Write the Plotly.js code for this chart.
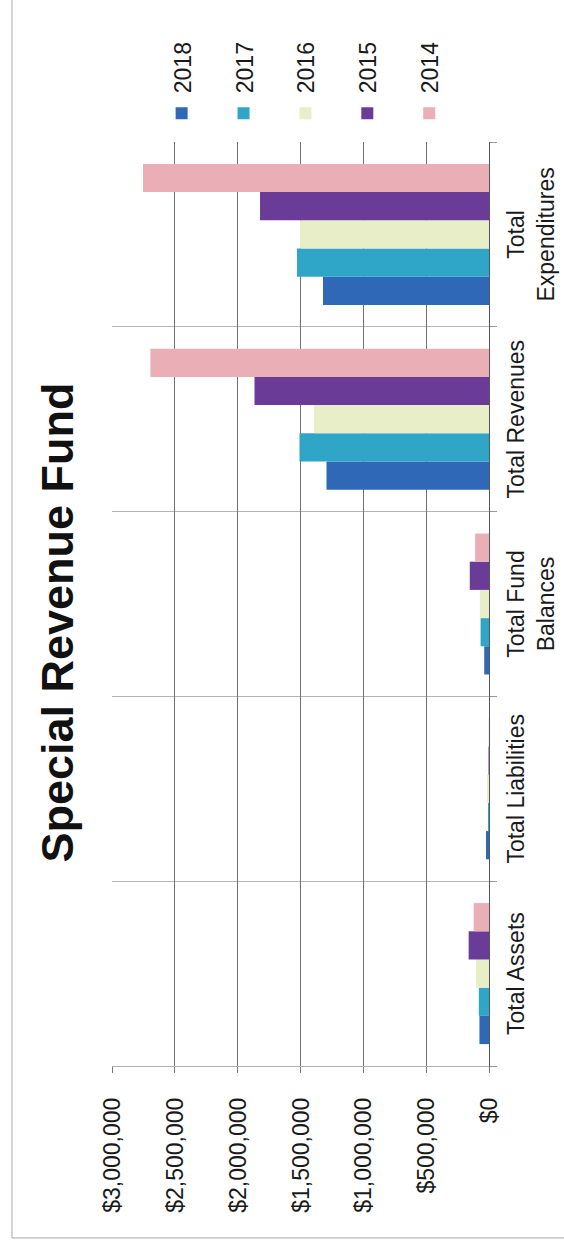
<!DOCTYPE html>
<html>
<head>
<meta charset="utf-8">
<script src="https://cdn.plot.ly/plotly-3.0.1.min.js"></script>
<style>
html,body{margin:0;padding:0;width:564px;height:1245px;overflow:hidden;background:#fff;}
#chart{position:absolute;left:0;top:0;width:1245px;height:564px;transform-origin:0 0;transform:translateY(1245px) rotate(-90deg);}
</style>
</head>
<body>
<div id="chart"></div>
<script>
// Data read from the (rotated) reference chart
const categories = ['Total Assets', 'Total Liabilities', 'Total Fund<br>Balances', 'Total Revenues', 'Total<br>Expenditures'];
const years = ['2018', '2017', '2016', '2015', '2014'];
const v2018 = [76000, 24000, 38000, 1293000, 1321000];
const v2017 = [81000, 8000, 67000, 1508000, 1528000];
const v2016 = [104000, 16000, 73000, 1393000, 1504000];
const v2015 = [162000, 4000, 153000, 1866000, 1822000];
const v2014 = [122000, 2000, 110000, 2694000, 2753000];
const tickValues = [0, 500000, 1000000, 1500000, 2000000, 2500000, 3000000];

const seriesValues = [v2018, v2017, v2016, v2015, v2014];
const colors = ['#2f68b6', '#2fa5c8', '#e8eec8', '#6a3c98', '#eaaeb6'];

const FONT = 'Liberation Sans, Arial, Helvetica, sans-serif';

const traces = years.map((y, i) => ({
  type: 'bar',
  name: y,
  legendgroup: y,
  x: categories,
  y: seriesValues[i],
  marker: {color: colors[i], line: {width: 0}}
}));

const layout = {
  width: 1245,
  height: 564,
  margin: {l: 179, r: 142, t: 112, b: 75, pad: 0},
  paper_bgcolor: '#ffffff',
  plot_bgcolor: '#ffffff',
  font: {family: FONT, size: 23, color: '#1a1a1a'},
  title: {
    text: '<b>Special Revenue Fund</b>',
    font: {family: FONT, size: 45, color: '#111111'},
    xref: 'container', x: 0.5, xanchor: 'center',
    yref: 'container', y: 0.899, yanchor: 'middle'
  },
  barmode: 'group',
  bargap: 0.237,
  bargroupgap: 0,
  showlegend: true,
  legend: {
    xref: 'container', x: 0.893, xanchor: 'left',
    yref: 'container', y: 0.716, yanchor: 'top',
    orientation: 'v',
    maxheight: 520,
    font: {family: FONT, size: 23, color: '#1a1a1a'},
    tracegroupgap: 29,
    bgcolor: 'rgba(0,0,0,0)',
    borderwidth: 0
  },
  xaxis: {
    type: 'category',
    tickson: 'boundaries',
    ticks: 'outside',
    ticklen: 7,
    tickcolor: '#999999',
    showgrid: true,
    gridcolor: '#b5b5b5',
    gridwidth: 1,
    showline: true,
    linecolor: '#555555',
    linewidth: 1,
    tickfont: {family: FONT, size: 23, color: '#1a1a1a'},
    ticklabelstandoff: 6,
    tickangle: 0,
    fixedrange: true
  },
  yaxis: {
    range: [0, 3000000],
    tickvals: tickValues,
    tickformat: '$,.0f',
    ticks: 'outside',
    ticklen: 6,
    tickcolor: '#777777',
    showgrid: true,
    gridcolor: '#707070',
    gridwidth: 1,
    zeroline: false,
    showline: true,
    linecolor: '#b0b0b0',
    linewidth: 1,
    mirror: false,
    tickfont: {family: FONT, size: 23, color: '#1a1a1a'},
    ticklabelstandoff: 20,
    fixedrange: true
  },
  shapes: [
    {type: 'line', xref: 'paper', yref: 'paper', x0: -0.1861, x1: 1.16, y0: 1.2653, y1: 1.2653,
     line: {color: '#a8a8a8', width: 1}},
    {type: 'line', xref: 'paper', yref: 'paper', x0: -0.1861, x1: -0.1861, y0: 1.2653, y1: -0.2,
     line: {color: '#a8a8a8', width: 1}}
  ]
};

Plotly.newPlot('chart', traces, layout, {staticPlot: true, displayModeBar: false});
</script>
</body>
</html>
